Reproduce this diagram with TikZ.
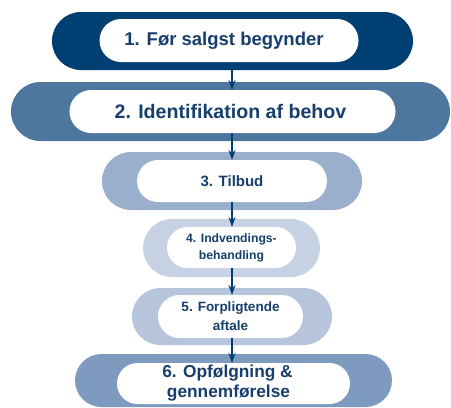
\documentclass[tikz,border=0pt]{standalone}
\usepackage{fontspec}
\setmainfont{Liberation Sans}
\usetikzlibrary{shapes.misc,arrows.meta}
\definecolor{navy}{HTML}{003F72}
\definecolor{txt}{HTML}{163F6C}
\definecolor{cB}{HTML}{4E77A0}
\definecolor{cC}{HTML}{9AAFCB}
\definecolor{cD}{HTML}{C6D1E3}
\definecolor{cE}{HTML}{B6C5DC}
\definecolor{cF}{HTML}{7E9ABE}
\tikzset{
  outer/.style={rounded rectangle, inner sep=0pt, outer sep=0pt, draw=none},
  inner/.style={rounded rectangle, inner sep=0pt, outer sep=0pt, fill=white, draw=none,
    text=txt, font=\bfseries, align=center},
  link/.style={draw=navy, line width=2pt, -{Stealth[length=10pt,width=7pt]}}
}
\begin{document}
\begin{tikzpicture}[x=1pt,y=-1pt]
\useasboundingbox (0,0) rectangle (451,408);
% outer bands
\node[outer, fill=navy, minimum width=361pt, minimum height=58pt] (o1) at (232.5,41) {};
\node[outer, fill=cB, minimum width=439pt, minimum height=59pt] (o2) at (230.5,111.5) {};
\node[outer, fill=cC, minimum width=260pt, minimum height=58pt] (o3) at (232,181) {};
\node[outer, fill=cD, minimum width=177pt, minimum height=58pt] (o4) at (231.5,248) {};
\node[outer, fill=cE, minimum width=200pt, minimum height=57pt] (o5) at (232,316.5) {};
\node[outer, fill=cF, minimum width=317pt, minimum height=53pt] (o6) at (233.5,380.5) {};
% inner labels
\node[inner, minimum width=259pt, minimum height=43pt, font=\bfseries\fontsize{18.5}{20}\selectfont] (s1) at (229,40.5) {1. Før salgst begynder\hspace*{10pt}};
\node[inner, minimum width=326pt, minimum height=43pt, font=\bfseries\fontsize{19.6}{22}\selectfont] (s2) at (232.5,111.5) {2. Identifikation af behov\hspace*{4pt}};
\node[inner, minimum width=190pt, minimum height=42pt, font=\bfseries\fontsize{15}{17}\selectfont] (s3) at (232,181) {3. Tilbud};
\node[inner, minimum width=129pt, minimum height=41pt, font=\bfseries\fontsize{12.2}{17}\selectfont] (s4) at (231.5,247.5) {4. Indvendings-\\behandling};
\node[inner, minimum width=145pt, minimum height=43pt, font=\bfseries\fontsize{13.5}{19}\selectfont] (s5) at (230.5,316.5) {5. Forpligtende\\aftale};
\node[inner, minimum width=233pt, minimum height=41pt, font=\bfseries\fontsize{17.3}{20}\selectfont] (s6) at (233.5,383.5) {6. Opfølgning \&\hspace*{12pt}\\gennemførelse\hspace*{10pt}};
% connectors
\draw[link] (s1.south -| o3.center) -- (o3.center |- s2.north);
\draw[link] (s2.south -| o3.center) -- (o3.center |- s3.north);
\draw[link] (s3.south) -- (s3.south |- s4.north);
\draw[link] (s4.south -| o3.center) -- (o3.center |- s5.north);
\draw[link] (s5.south -| o3.center) -- (o3.center |- s6.north);
\end{tikzpicture}
\end{document}
